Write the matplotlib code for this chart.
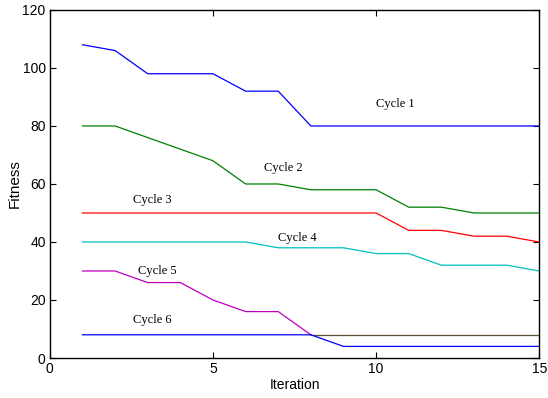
import matplotlib
matplotlib.use("Agg")
import matplotlib.pyplot as plt

iters = list(range(1, 16))
cycle1 = [108, 106, 98, 98, 98, 92, 92, 80, 80, 80, 80, 80, 80, 80, 80]
cycle2 = [80, 80, 76, 72, 68, 60, 60, 58, 58, 58, 52, 52, 50, 50, 50]
cycle3 = [50, 50, 50, 50, 50, 50, 50, 50, 50, 50, 44, 44, 42, 42, 40]
cycle4 = [40, 40, 40, 40, 40, 40, 38, 38, 38, 36, 36, 32, 32, 32, 30]
cycle5_x = [1, 2, 3, 4, 5, 6, 7, 8]
cycle5 = [30, 30, 26, 26, 20, 16, 16, 8]
extra_x = [8, 9, 10, 11, 12, 13, 14, 15]
extra = [8, 8, 8, 8, 8, 8, 8, 8]
cycle6 = [8, 8, 8, 8, 8, 8, 8, 8, 4, 4, 4, 4, 4, 4, 4]

labels = ["Cycle 1", "Cycle 2", "Cycle 3", "Cycle 4", "Cycle 5", "Cycle 6"]
label_pos = [(10.6, 87.5), (7.15, 65.5), (3.15, 54.5), (7.6, 41.5), (3.3, 30), (3.15, 13.2)]

plt.rcParams['font.family'] = ['Liberation Sans Narrow', 'Liberation Sans', 'DejaVu Sans']
fig = plt.figure(figsize=(5.48, 3.98), dpi=100)
ax = fig.add_axes([0.091, 0.1005, 0.893, 0.8745])

lw = 0.9
ax.plot(iters, cycle1, color='#0000ff', lw=lw)
ax.plot(iters, cycle2, color='#008000', lw=lw)
ax.plot(iters, cycle3, color='#ff0000', lw=lw)
ax.plot(iters, cycle4, color='#00bfbf', lw=lw)
ax.plot(extra_x, extra, color='#5e5038', lw=lw)
ax.plot(cycle5_x, cycle5, color='#bf00bf', lw=lw)
ax.plot(iters, cycle6, color='#0000ff', lw=lw)

for t, (x, y) in zip(labels, label_pos):
    ax.text(x, y, t, ha='center', va='center', fontsize=9, family='Liberation Serif')

ax.set_xlim(0, 15)
ax.set_ylim(0, 120)
ax.set_xticks([0, 5, 10, 15])
ax.set_yticks([0, 20, 40, 60, 80, 100, 120])
ax.tick_params(direction='in', top=True, right=True, labelsize=10, length=4, width=0.8, pad=3)
for s in ax.spines.values():
    s.set_linewidth(1.0)
ax.set_xlabel('Iteration', fontsize=10, labelpad=1)
ax.set_ylabel('Fitness', fontsize=11, va='center')
ax.yaxis.set_label_coords(-0.072, 0.5)

fig.savefig('out.png', dpi=100)
